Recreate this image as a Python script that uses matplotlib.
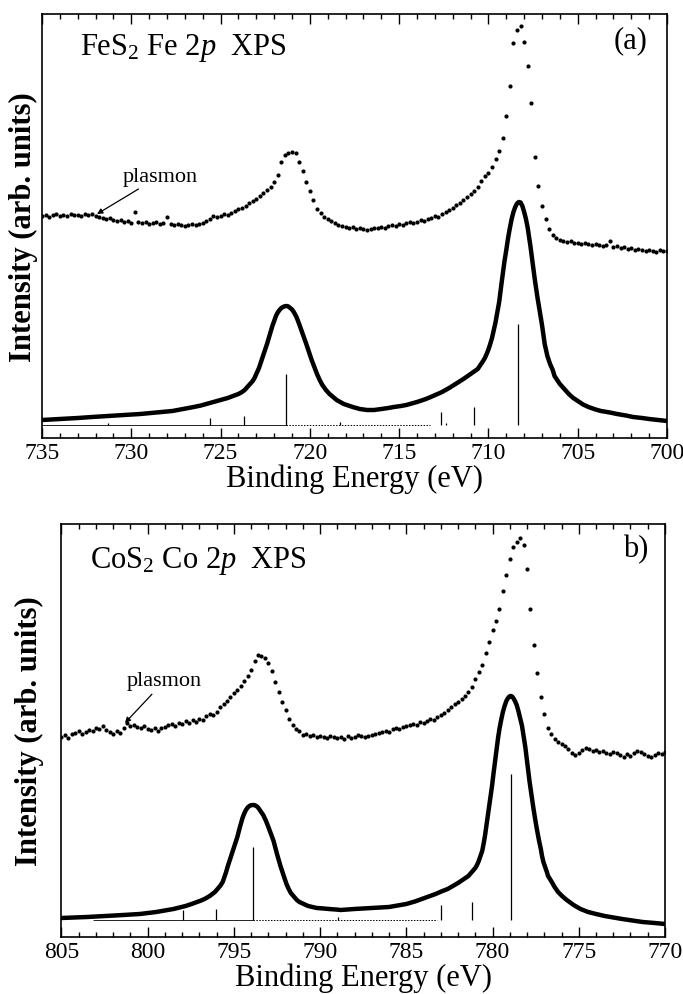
import numpy as np
import matplotlib
matplotlib.use("Agg")
import matplotlib.pyplot as plt
from matplotlib.ticker import MultipleLocator

plt.rcParams['font.family'] = 'Liberation Serif'
plt.rcParams['mathtext.fontset'] = 'custom'
plt.rcParams['mathtext.rm'] = 'Liberation Serif'
plt.rcParams['mathtext.it'] = 'Liberation Serif:italic'

# ---- FeS2 Fe 2p : measured XPS (0.2 eV steps, 735 -> 700 eV) ----
fe_exp_e = np.round(np.arange(735.0, 699.9, -0.2), 1)
fe_exp_i = [
    222, 223, 221, 223, 224, 222, 223, 222, 224, 223,
    223, 222, 224, 223, 224, 222, 221, 220, 219, 220,
    218, 217, 218, 216, 217, 215, 226, 216, 215, 216,
    214, 215, 216, 214, 215, 221, 214, 213, 214, 213,
    212, 213, 214, 213, 214, 215, 217, 219, 222, 221,
    222, 224, 223, 225, 227, 229, 230, 232, 235, 237,
    239, 242, 245, 248, 251, 256, 263, 276, 283, 285,
    286, 285, 276, 267, 256, 247, 238, 229, 225, 221,
    219, 217, 215, 213, 212, 211, 210, 211, 209, 210,
    209, 208, 209, 210, 210, 211, 210, 212, 213, 212,
    214, 213, 215, 216, 215, 216, 218, 217, 219, 220,
    222, 221, 224, 226, 228, 230, 233, 235, 238, 241,
    244, 247, 251, 257, 262, 265, 271, 279, 287, 300,
    322, 352, 395, 408, 412, 396, 372, 335, 281, 252,
    232, 219, 209, 203, 200, 198, 197, 196, 197, 195,
    195, 194, 195, 194, 193, 194, 193, 192, 193, 197,
    191, 192, 190, 191, 189, 190, 188, 189, 188, 187,
    188, 187, 186, 188, 187, 187,
]

# ---- FeS2 Fe 2p : calculated spectrum ----
fe_fit_e = [735.0, 734.0, 733.0, 732.2, 731.3, 730.4, 729.5, 728.6, 727.7, 727.1,
            726.5, 726.1, 725.8, 725.4, 725.0, 724.6, 724.3, 724.0, 723.8, 723.65,
            723.5, 723.35, 723.2, 723.1, 723.0, 722.85, 722.7, 722.55, 722.4, 722.25,
            722.1, 722.0, 721.9, 721.8, 721.7, 721.6, 721.5, 721.4, 721.3, 721.2,
            721.1, 721.0, 720.9, 720.75, 720.6, 720.5, 720.4, 720.3, 720.2, 720.05,
            719.9, 719.75, 719.6, 719.45, 719.3, 719.1, 718.9, 718.7, 718.5, 718.3,
            718.1, 717.85, 717.6, 717.4, 717.2, 716.8, 716.4, 716.0, 715.6, 715.3,
            714.9, 714.6, 714.3, 714.0, 713.5, 713.1, 712.6, 712.2, 711.8, 711.4,
            711.0, 710.6, 710.45, 710.3, 710.2, 710.1, 710.0, 709.9, 709.8, 709.7,
            709.6, 709.5, 709.4, 709.25, 709.1, 709.0, 708.9, 708.8, 708.7, 708.6,
            708.5, 708.4, 708.3, 708.2, 708.1, 708.0, 707.9, 707.8, 707.65, 707.5,
            707.4, 707.25, 707.1, 707.0, 706.85, 706.7, 706.55, 706.4, 706.3, 706.15,
            706.0, 705.75, 705.5, 705.25, 705.0, 704.7, 704.4, 704.0, 703.7, 703.2,
            702.8, 702.3, 701.9, 701.4, 701.0, 700.5, 700.0]
fe_fit_i = [18, 19, 20, 21, 22, 23, 24, 25.5, 27, 29,
            31, 32.5, 34, 36, 38, 40, 42, 44, 46, 48,
            51, 54, 57, 60, 64, 70, 78, 86, 94, 103,
            112, 117, 122, 125.5, 128, 130, 131, 131.8, 132, 131.5,
            130, 128.5, 126, 121, 114, 109, 104, 99, 94, 86,
            78, 71, 64, 58, 53, 48, 44, 41, 38, 36,
            34, 32.5, 31, 30, 29, 28, 28, 29, 30, 31,
            32, 33, 34.5, 36, 39, 42, 46, 50, 54.5, 59,
            64, 69, 73, 77, 80, 84, 88.5, 94, 100, 108,
            116, 126, 136, 157, 177, 188, 200, 210, 219, 226,
            231, 234.5, 236, 235.5, 232, 226, 219, 210, 192, 172,
            158, 140, 124, 113, 94, 82, 74, 68, 62, 58,
            54, 49, 44, 40, 37, 33.5, 31, 28.5, 27, 25.5,
            24, 22.5, 21, 20, 19, 18, 17]

# ---- FeS2 Fe 2p : multiplet lines ----
fe_stick_e = [731.3, 725.6, 723.7, 721.35, 718.3, 712.67, 712.4, 710.79, 708.34]
fe_stick_i = [14.5, 20, 22, 64, 16, 26, 15, 31, 114]
fe_base = 13

# ---- CoS2 Co 2p : measured XPS (0.2 eV steps, 805 -> 770 eV) ----
co_exp_e = np.round(np.arange(805.0, 769.9, -0.2), 1)
co_exp_i = [
    200, 202, 199, 203, 204, 206, 203, 205, 207, 206,
    209, 208, 211, 207, 205, 203, 206, 204, 209, 214,
    211, 212, 210, 209, 211, 208, 207, 209, 206, 209,
    210, 212, 213, 211, 214, 213, 216, 214, 217, 215,
    218, 217, 221, 223, 222, 225, 230, 233, 236, 240,
    244, 247, 251, 256, 261, 267, 276, 282, 281, 279,
    274, 266, 255, 245, 235, 227, 218, 212, 208, 206,
    202, 203, 201, 202, 200, 201, 200, 199, 201, 200,
    199, 200, 198, 201, 199, 200, 202, 201, 200, 201,
    202, 203, 204, 205, 206, 205, 208, 209, 208, 210,
    211, 212, 213, 212, 215, 214, 216, 218, 217, 220,
    222, 224, 227, 230, 233, 235, 238, 241, 245, 250,
    258, 265, 272, 284, 295, 307, 316, 328, 346, 362,
    378, 390, 395, 399, 392, 368, 328, 292, 264, 240,
    223, 209, 203, 198, 195, 193, 191, 188, 184, 182,
    184, 187, 189, 188, 186, 187, 185, 186, 184, 183,
    185, 184, 182, 180, 183, 181, 184, 186, 185, 183,
    181, 180, 182, 184, 183, 185,
]

# ---- CoS2 Co 2p : calculated spectrum ----
co_fit_e = [805.0, 804.2, 803.5, 802.4, 801.4, 800.45, 799.5, 798.5, 797.8, 797.45,
            797.14, 796.9, 796.7, 796.55, 796.4, 796.25, 796.1, 795.95, 795.8, 795.65,
            795.55, 795.45, 795.35, 795.2, 795.1, 794.95, 794.8, 794.65, 794.5, 794.4,
            794.3, 794.2, 794.1, 794.0, 793.9, 793.8, 793.7, 793.6, 793.5, 793.4,
            793.3, 793.15, 793.0, 792.85, 792.7, 792.6, 792.5, 792.4, 792.3, 792.15,
            792.05, 791.95, 791.85, 791.7, 791.5, 791.35, 791.2, 790.95, 790.7, 790.45,
            790.2, 789.8, 789.5, 789.1, 788.8, 788.4, 788.0, 787.5, 787.0, 786.5,
            786.0, 785.5, 785.0, 784.5, 784.1, 783.7, 783.3, 782.9, 782.6, 782.3,
            782.0, 781.7, 781.4, 781.2, 781.0, 780.9, 780.8, 780.7, 780.6, 780.52,
            780.44, 780.35, 780.25, 780.14, 780.03, 779.94, 779.85, 779.76, 779.68, 779.6,
            779.5, 779.4, 779.3, 779.2, 779.1, 779.02, 778.95, 778.87, 778.8, 778.7,
            778.6, 778.5, 778.4, 778.29, 778.2, 778.1, 778.02, 777.94, 777.85, 777.75,
            777.64, 777.53, 777.42, 777.3, 777.2, 777.13, 777.05, 776.95, 776.85, 776.78,
            776.6, 776.4, 776.2, 775.97, 775.7, 775.3, 774.9, 774.46, 774.0, 773.5,
            773.0, 772.49, 771.9, 771.3, 770.6, 770.0]
co_fit_i = [19, 19.5, 20, 21, 22, 23, 25, 28, 31, 33,
            35, 36.5, 38, 39.5, 41, 43, 45, 48, 51, 55,
            60, 65, 71, 79, 84, 92, 100, 110, 119, 123.5,
            127, 129.5, 131, 131.8, 132, 131.8, 131, 129.5, 127, 124.5,
            122, 116.5, 110, 103, 96, 89.5, 83, 77, 71, 63,
            58, 53, 49, 44, 40, 37, 35, 33, 31, 30,
            29, 28.5, 28, 27.5, 27, 27.5, 28, 28.5, 29, 29.5,
            30, 31.5, 33, 35.5, 38, 40.5, 43, 46, 48, 51,
            54, 57.5, 61, 65, 69, 72, 76, 81, 86, 93,
            101, 112, 124, 138, 151, 164, 176, 188, 199, 208,
            217, 225, 231, 236, 239, 240.5, 241, 240.5, 239, 236,
            232, 226, 219, 211, 201, 190, 179, 168, 155, 143,
            130, 118, 107, 96, 88, 81, 75, 70, 65, 61,
            56, 50, 45, 41, 37, 32, 28, 25, 23, 21,
            19.5, 18, 16.5, 15, 14, 13]

# ---- CoS2 Co 2p : multiplet lines ----
co_stick_e = [797.94, 796.04, 793.89, 788.98, 783.0, 781.17, 778.94]
co_stick_i = [27, 28, 90, 19.5, 32, 35, 163]
co_base = 17


def draw_panel(ax, exp_e, exp_i, fit_e, fit_i, st_e, st_i, base,
               solid_span, dot_span, xlim, ylim):
    ax.plot(exp_e, exp_i, 'o', ms=3.0, mew=0, color='k')
    ax.plot(fit_e, fit_i, '-', lw=3.2, color='k', solid_joinstyle='round')
    ax.vlines(st_e, base, st_i, color='k', lw=0.9)
    ax.hlines(base, solid_span[0], solid_span[1], color='k', lw=0.6)
    ax.hlines(base, dot_span[0], dot_span[1], color='k', lw=0.7,
              linestyles=(0, (1.5, 1.5)))

    ax.set_xlim(*xlim)
    ax.set_ylim(*ylim)
    ax.xaxis.set_major_locator(MultipleLocator(5))
    ax.xaxis.set_minor_locator(MultipleLocator(1))
    ax.tick_params(axis='x', which='both', direction='in', top=True,
                   bottom=True, labelsize=17, pad=3, width=1.0)
    ax.tick_params(axis='x', which='major', length=7)
    ax.tick_params(axis='x', which='minor', length=3.6)
    ax.set_yticks([])
    for sp in ax.spines.values():
        sp.set_linewidth(1.2)
    ax.set_xlabel('Binding Energy (eV)', fontsize=22, labelpad=0)
    ax.set_ylabel('Intensity (arb. units)', fontsize=22, fontweight='bold')


fig = plt.figure(figsize=(6.83, 9.95), dpi=100)

ax_fe = fig.add_axes([0.0615, 0.5588, 0.9151, 0.4261])
draw_panel(ax_fe, fe_exp_e, fe_exp_i, fe_fit_e, fe_fit_i,
           fe_stick_e, fe_stick_i, fe_base,
           (735.0, 721.35), (721.35, 713.3), (735, 700), (0, 424))
ax_fe.yaxis.set_label_coords(-0.006, 0.5)
ax_fe.text(732.87, 384, r'FeS$_2$ Fe $\mathit{2p}$  XPS', fontsize=22,
           ha='left', va='baseline')
ax_fe.text(701.12, 398, '(a)', fontsize=22, ha='right', va='center')
ax_fe.annotate('plasmon', xy=(731.92, 224), xytext=(728.39, 262),
               fontsize=16, ha='center', va='center',
               arrowprops=dict(arrowstyle='-|>', lw=0.9, color='k',
                               mutation_scale=8, shrinkA=1, shrinkB=0))

ax_co = fig.add_axes([0.090, 0.0573, 0.8836, 0.4151])
draw_panel(ax_co, co_exp_e, co_exp_i, co_fit_e, co_fit_i,
           co_stick_e, co_stick_i, co_base,
           (803.2, 793.89), (793.89, 783.2), (805, 770), (0, 413))
ax_co.yaxis.set_label_coords(-0.029, 0.5)
ax_co.text(803.35, 370, r'CoS$_2$ Co $\mathit{2p}$  XPS', fontsize=22,
           ha='left', va='baseline')
ax_co.text(770.98, 388, 'b)', fontsize=22, ha='right', va='center')
ax_co.annotate('plasmon', xy=(801.32, 214), xytext=(799.03, 256),
               fontsize=16, ha='center', va='center',
               arrowprops=dict(arrowstyle='-|>', lw=0.9, color='k',
                               mutation_scale=8, shrinkA=1, shrinkB=0))

fig.savefig('out.png', dpi=100)
